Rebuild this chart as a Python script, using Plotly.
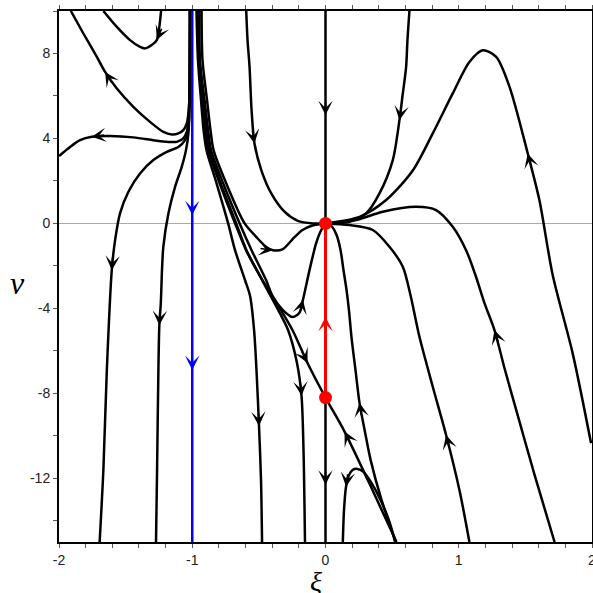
import math
import plotly.graph_objects as go

# ---------------- data ----------------
# Region xi < -1
A_x = [-1.911, -1.817, -1.716, -1.654, -1.566, -1.442, -1.317, -1.217, -1.154, -1.104, -1.067, -1.041, -1.029, -1.022, -1.017, -1.017]
A_y = [10.0, 8.94, 7.84, 7.13, 6.35, 5.49, 4.78, 4.31, 4.19, 4.24, 4.39, 4.71, 5.18, 5.80, 7.37, 10.0]

B_x = [-1.667, -1.566, -1.467, -1.392, -1.354, -1.304, -1.266, -1.247, -1.234]
B_y = [10.0, 9.25, 8.63, 8.31, 8.24, 8.40, 8.63, 9.25, 10.0]

C_x = [-2.0, -1.917, -1.842, -1.754, -1.617, -1.442, -1.292, -1.191, -1.116, -1.067, -1.041, -1.029, -1.022, -1.017]
C_y = [3.17, 3.60, 3.92, 4.08, 4.11, 4.05, 3.92, 3.84, 3.84, 4.00, 4.31, 4.86, 5.80, 10.0]

D_x = [-1.695, -1.667, -1.641, -1.604, -1.579, -1.542, -1.479, -1.392, -1.292, -1.191, -1.104, -1.054, -1.034, -1.024, -1.019, -1.017]
D_y = [-15.0, -11.61, -6.90, -2.20, -0.79, 0.47, 1.49, 2.35, 2.98, 3.37, 3.60, 3.92, 4.31, 4.86, 6.5, 10.0]

E_x = [-1.272, -1.264, -1.254, -1.247, -1.236, -1.227, -1.217, -1.179, -1.129, -1.079, -1.047, -1.029, -1.022, -1.017]
E_y = [-15.0, -11.61, -6.90, -4.79, -3.76, -2.20, -1.10, 0.47, 1.72, 2.66, 3.45, 4.24, 5.33, 10.0]

# Bundle leaving the singular line xi = -1 (right side)
F1_x = [-0.968, -0.957, -0.934, -0.915, -0.893, -0.818, -0.731, -0.679, -0.604, -0.566, -0.536, -0.518, -0.499, -0.484, -0.476]
F1_y = [10.0, 7.68, 5.80, 4.39, 3.45, 1.90, 0.01, -1.26, -2.67, -3.42, -5.02, -6.90, -9.54, -12.08, -15.0]

F2_x = [-0.960, -0.949, -0.923, -0.900, -0.878, -0.795, -0.679, -0.596, -0.476, -0.371, -0.281, -0.214, -0.180, -0.165, -0.154]
F2_y = [10.0, 7.68, 5.80, 4.39, 3.45, 1.90, 0.01, -1.26, -2.67, -3.89, -5.02, -6.57, -8.12, -10.66, -15.0]

DG_x = [-0.957, -0.949, -0.919, -0.896, -0.874, -0.788, -0.671, -0.593, -0.473, -0.353, -0.248, -0.135, 0.0, 0.143, 0.330, 0.533]
DG_y = [10.0, 7.68, 5.80, 4.39, 3.45, 1.90, 0.01, -1.26, -2.67, -3.89, -5.02, -6.57, -8.2, -9.80, -12.25, -15.0]

F4_x = [-0.945, -0.942, -0.908, -0.881, -0.859, -0.769, -0.645, -0.555, -0.446, -0.395, -0.320, -0.245, -0.195, -0.169, -0.120, -0.070, -0.032, 0.0]
F4_y = [10.0, 7.68, 5.80, 4.39, 3.45, 1.90, 0.01, -1.26, -2.67, -3.45, -4.08, -4.41, -4.20, -3.59, -2.20, -0.93, -0.31, 0.0]

F5_x = [-0.930, -0.923, -0.889, -0.863, -0.840, -0.746, -0.608, -0.518, -0.443, -0.395, -0.323, -0.233, -0.173, -0.098, 0.0]
F5_y = [10.0, 7.68, 5.80, 4.39, 3.45, 1.90, 0.01, -0.65, -1.12, -1.26, -1.22, -0.65, -0.31, -0.10, 0.0]

G_x = [-0.595, -0.585, -0.570, -0.555, -0.533, -0.482, -0.407, -0.308, -0.208, -0.095, 0.0]
G_y = [10.0, 8.62, 7.37, 5.35, 3.76, 2.51, 1.41, 0.55, 0.12, 0.0, 0.0]

# Region xi > 0
GR_x = [0.630, 0.615, 0.605, 0.578, 0.555, 0.505, 0.405, 0.305, 0.180, 0.0]
GR_y = [10.0, 8.62, 7.37, 6.01, 4.86, 2.98, 1.41, 0.47, 0.08, 0.0]

HILL_x = [0.0, 0.255, 0.455, 0.655, 0.805, 0.955, 1.080, 1.180, 1.281, 1.381, 1.518, 1.605, 1.705, 1.855, 1.993]
HILL_y = [0.0, 0.31, 1.10, 2.49, 4.24, 6.12, 7.60, 8.15, 7.84, 6.43, 3.29, 1.10, -2.43, -6.12, -10.35]

I_x = [0.0, 0.230, 0.430, 0.680, 0.830, 0.955, 1.055, 1.125, 1.193, 1.268, 1.343, 1.431, 1.569, 1.719]
I_y = [0.0, 0.16, 0.55, 0.78, 0.63, -0.16, -1.26, -2.43, -3.75, -5.02, -6.81, -8.78, -11.84, -15.0]

J_x = [0.0, 0.180, 0.355, 0.480, 0.580, 0.638, 0.705, 0.805, 0.905, 1.005, 1.080]
J_y = [0.0, -0.08, -0.31, -1.10, -2.04, -3.38, -5.34, -7.69, -9.96, -12.55, -15.0]

H_x = [0.0, 0.045, 0.083, 0.113, 0.135, 0.158, 0.176, 0.195, 0.225, 0.255, 0.293, 0.338, 0.420, 0.528]
H_y = [0.0, -0.13, -0.55, -1.26, -2.20, -3.14, -4.08, -5.35, -6.90, -8.44, -9.71, -11.12, -13.01, -15.0]

HUMP_x = [0.130, 0.139, 0.154, 0.173, 0.203, 0.240, 0.285, 0.345, 0.413, 0.480, 0.522]
HUMP_y = [-15.0, -13.49, -12.40, -11.89, -11.61, -11.56, -11.70, -12.22, -13.02, -14.05, -15.0]

# Invariant vertical lines
BLUE_x = [-1.0, -1.0, -1.0, -1.0]
BLUE_y = [10.0, 0.39, -6.9, -15.0]
V0TOP_x = [0.0, 0.0, 0.0]
V0TOP_y = [10.0, 5.1, 0.0]
RED_x = [0.0, 0.0, 0.0]
RED_y = [0.0, -4.4, -8.2]
V0BOT_x = [0.0, 0.0, 0.0]
V0BOT_y = [-8.2, -12.3, -15.0]

# Equilibria
EQ_x = [0.0, 0.0]
EQ_y = [0.0, -8.2]

# Arrow glyphs: (curve, point index, flow direction along the list)
ARROWS = [
    ("A", 3, -1), ("B", 6, -1), ("C", 3, -1), ("D", 3, -1), ("E", 3, -1),
    ("F1", 12, 1), ("F2", 12, 1), ("DG", 11, 1), ("DG", 13, -1),
    ("F4", 13, 1), ("F5", 9, 1), ("G", 4, 1), ("GR", 4, 1),
    ("HILL", 10, -1), ("I", 9, -1), ("J", 8, -1), ("H", 9, -1), ("HUMP", 2, -1),
    ("BLUE", 1, 1), ("BLUE", 2, 1), ("V0TOP", 1, 1), ("RED", 1, -1), ("V0BOT", 1, 1),
]

X_TICKS = [-2, -1, 0, 1, 2]
X_TICKTEXT = ["-2", "-1", "0", "1", "2"]
Y_TICKS = [-12, -8, -4, 0, 4, 8]
Y_TICKTEXT = ["-12", "-8", "-4", "0", "4", "8"]

# ---------------- figure ----------------
curves = {
    "A": (A_x, A_y), "B": (B_x, B_y), "C": (C_x, C_y), "D": (D_x, D_y), "E": (E_x, E_y),
    "F1": (F1_x, F1_y), "F2": (F2_x, F2_y), "DG": (DG_x, DG_y), "F4": (F4_x, F4_y),
    "F5": (F5_x, F5_y), "G": (G_x, G_y), "GR": (GR_x, GR_y), "HILL": (HILL_x, HILL_y),
    "I": (I_x, I_y), "J": (J_x, J_y), "H": (H_x, H_y), "HUMP": (HUMP_x, HUMP_y),
}
straight = {
    "BLUE": (BLUE_x, BLUE_y, "#0000ff", 2.5),
    "V0TOP": (V0TOP_x, V0TOP_y, "#000000", 2.5),
    "RED": (RED_x, RED_y, "#ff0000", 3),
    "V0BOT": (V0BOT_x, V0BOT_y, "#000000", 2.5),
}

W, H = 593, 593
ML, MR, MT, MB = 59, 1, 11, 51
XR = (-2, 2)
YR = (-15, 10)
sx = (W - ML - MR) / (XR[1] - XR[0])
sy = (H - MT - MB) / (YR[1] - YR[0])

fig = go.Figure()
for name, (xs, ys) in curves.items():
    fig.add_trace(go.Scatter(x=xs, y=ys, mode="lines",
                             line=dict(color="black", width=2.5, shape="spline", smoothing=0.8),
                             hoverinfo="skip", showlegend=False))
for name, (xs, ys, col, w) in straight.items():
    fig.add_trace(go.Scatter(x=xs, y=ys, mode="lines", line=dict(color=col, width=w),
                             hoverinfo="skip", showlegend=False))
fig.add_trace(go.Scatter(x=EQ_x, y=EQ_y, mode="markers",
                         marker=dict(color="#ff0000", size=13, line=dict(width=0)),
                         hoverinfo="skip", showlegend=False))

annotations = []
for name, i, d in ARROWS:
    if name in curves:
        xs, ys = curves[name]
        col = "black"
    else:
        xs, ys, col, _ = straight[name]
        if col == "#000000":
            col = "black"
    i0 = max(i - 1, 0)
    i1 = min(i + 1, len(xs) - 1)
    tx = (xs[i1] - xs[i0]) * sx * d
    ty = -(ys[i1] - ys[i0]) * sy * d
    n = math.hypot(tx, ty) or 1.0
    L = 14.0
    annotations.append(dict(
        x=xs[i], y=ys[i], xref="x", yref="y",
        ax=-tx / n * L, ay=-ty / n * L, axref="pixel", ayref="pixel",
        text="", showarrow=True, arrowhead=3, arrowsize=1.5, arrowwidth=1.6,
        arrowcolor=col, standoff=0,
    ))

annotations.append(dict(text="<i>ξ</i>", x=0.482, y=-0.0415, xref="paper", yref="paper",
                        showarrow=False, font=dict(family="Liberation Serif", size=28, color="black"),
                        xanchor="center", yanchor="top"))
annotations.append(dict(text="<i>v</i>", x=-0.077, y=0.488, xref="paper", yref="paper",
                        showarrow=False, font=dict(family="Liberation Serif", size=32, color="black"),
                        xanchor="center", yanchor="middle"))

axis_common = dict(
    showgrid=False, showline=True, linecolor="black", linewidth=2, mirror="ticks",
    ticks="outside", ticklen=4, tickwidth=1, tickcolor="#555", automargin=False,
    ticklabeloverflow="allow",
    tickfont=dict(family="Liberation Sans", size=14, color="#222"),
)
fig.update_layout(
    width=W, height=H,
    margin=dict(l=ML, r=MR, t=MT, b=MB, autoexpand=False),
    paper_bgcolor="white", plot_bgcolor="white",
    xaxis=dict(range=list(XR), tickmode="array", tickvals=X_TICKS, ticktext=X_TICKTEXT,
               zeroline=False,
               minor=dict(dtick=0.2, tick0=0, ticks="outside", ticklen=4, tickcolor="#555"),
               **axis_common),
    yaxis=dict(range=list(YR), tickmode="array", tickvals=Y_TICKS, ticktext=Y_TICKTEXT,
               zeroline=True, zerolinecolor="#aaaaaa", zerolinewidth=1,
               minor=dict(dtick=2, tick0=0, ticks="outside", ticklen=4, tickcolor="#555"),
               **axis_common),
    annotations=annotations,
)

fig.write_html(
    "out.html",
    config={"displayModeBar": False},
    post_script="document.body.style.margin='0';document.body.style.padding='0';"
                "document.body.style.overflow='hidden';",
)
